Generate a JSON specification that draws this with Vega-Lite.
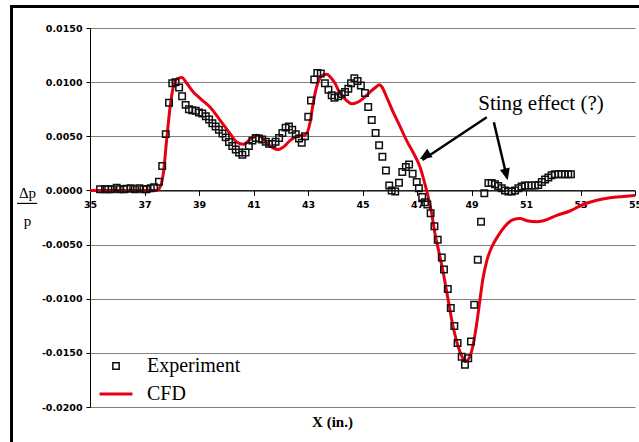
{
  "$schema": "https://vega.github.io/schema/vega-lite/v6.json",
  "width": 545,
  "height": 379,
  "autosize": "none",
  "padding": {"left": 90, "top": 28, "right": 4, "bottom": 35},
  "background": "white",
  "config": {"view": {"stroke": null}},
  "title": {"text": "X (in.)", "orient": "bottom", "anchor": "middle", "frame": "group", "offset": -32, "dx": -30, "font": "Liberation Serif", "fontSize": 15, "fontWeight": "bold", "color": "black", "baseline": "top"},
  "datasets": {
    "exp": [
      {"x":35.37,"y":0.0001},{"x":35.55,"y":0.0001},{"x":35.67,"y":0.0001},{"x":35.80,"y":0.0001},{"x":35.98,"y":0.00025},{"x":36.10,"y":0.0001},{"x":36.25,"y":0.0001},{"x":36.35,"y":0.00015},{"x":36.49,"y":0.0002},{"x":36.65,"y":0.0001},{"x":36.81,"y":0.0002},{"x":36.96,"y":0.0001},{"x":37.08,"y":0.0001},{"x":37.23,"y":0.0002},{"x":37.35,"y":0.0003},{"x":37.53,"y":0.0008},{"x":37.65,"y":0.00225},{"x":37.78,"y":0.0052},{"x":37.90,"y":0.0081},{"x":38.02,"y":0.0099},{"x":38.14,"y":0.0100},{"x":38.27,"y":0.0095},{"x":38.38,"y":0.0087},{"x":38.51,"y":0.0079},{"x":38.63,"y":0.0075},{"x":38.75,"y":0.0074},{"x":38.88,"y":0.00735},{"x":39.00,"y":0.0072},{"x":39.12,"y":0.0071},{"x":39.25,"y":0.00685},{"x":39.37,"y":0.00655},{"x":39.49,"y":0.0062},{"x":39.61,"y":0.0059},{"x":39.73,"y":0.0056},{"x":39.86,"y":0.00525},{"x":39.98,"y":0.0049},{"x":40.10,"y":0.00447},{"x":40.22,"y":0.0041},{"x":40.35,"y":0.00377},{"x":40.47,"y":0.0035},{"x":40.59,"y":0.0033},{"x":40.71,"y":0.0035},{"x":40.83,"y":0.0041},{"x":40.96,"y":0.0046},{"x":41.08,"y":0.00485},{"x":41.20,"y":0.0048},{"x":41.32,"y":0.0047},{"x":41.45,"y":0.0045},{"x":41.57,"y":0.0043},{"x":41.69,"y":0.0043},{"x":41.81,"y":0.0045},{"x":41.94,"y":0.00485},{"x":42.06,"y":0.0053},{"x":42.18,"y":0.0058},{"x":42.30,"y":0.0059},{"x":42.42,"y":0.0056},{"x":42.55,"y":0.0052},{"x":42.67,"y":0.0048},{"x":42.77,"y":0.0044},{"x":42.89,"y":0.0050},{"x":43.01,"y":0.0068},{"x":43.11,"y":0.0083},{"x":43.23,"y":0.01025},{"x":43.34,"y":0.01085},{"x":43.47,"y":0.0108},{"x":43.62,"y":0.0099},{"x":43.75,"y":0.0093},{"x":43.87,"y":0.0088},{"x":43.97,"y":0.00855},{"x":44.11,"y":0.0087},{"x":44.24,"y":0.0089},{"x":44.36,"y":0.0091},{"x":44.48,"y":0.0094},{"x":44.58,"y":0.0099},{"x":44.70,"y":0.01035},{"x":44.82,"y":0.0101},{"x":44.94,"y":0.0097},{"x":45.09,"y":0.0090},{"x":45.21,"y":0.0077},{"x":45.34,"y":0.0065},{"x":45.48,"y":0.0053},{"x":45.61,"y":0.00417},{"x":45.73,"y":0.0031},{"x":45.86,"y":0.00185},{"x":45.98,"y":0.00046},{"x":46.07,"y":0.0},{"x":46.20,"y":-0.0001},{"x":46.34,"y":0.0007},{"x":46.46,"y":0.0017},{"x":46.59,"y":0.00216},{"x":46.71,"y":0.0024},{"x":46.84,"y":0.00155},{"x":46.99,"y":0.00077},{"x":47.07,"y":0.0002},{"x":47.19,"y":-0.0006},{"x":47.29,"y":-0.0011},{"x":47.38,"y":-0.0013},{"x":47.50,"y":-0.0021},{"x":47.64,"y":-0.0033},{"x":47.76,"y":-0.00456},{"x":47.91,"y":-0.0062},{"x":47.99,"y":-0.0073},{"x":48.13,"y":-0.0091},{"x":48.24,"y":-0.01086},{"x":48.37,"y":-0.01253},{"x":48.49,"y":-0.0141},{"x":48.64,"y":-0.01537},{"x":48.76,"y":-0.0161},{"x":48.88,"y":-0.0155},{"x":48.98,"y":-0.01395},{"x":49.10,"y":-0.01056},{"x":49.23,"y":-0.0064},{"x":49.35,"y":-0.0029},{"x":49.47,"y":-0.00025},{"x":49.62,"y":0.00068},{"x":49.74,"y":0.00068},{"x":49.86,"y":0.00056},{"x":49.98,"y":0.0004},{"x":50.11,"y":0.0002},{"x":50.23,"y":0.0},{"x":50.35,"y":-0.0001},{"x":50.48,"y":-0.0001},{"x":50.60,"y":0.0},{"x":50.72,"y":0.0002},{"x":50.84,"y":0.00037},{"x":50.96,"y":0.00046},{"x":51.09,"y":0.00046},{"x":51.21,"y":0.00046},{"x":51.33,"y":0.00046},{"x":51.45,"y":0.0005},{"x":51.58,"y":0.00077},{"x":51.70,"y":0.001},{"x":51.82,"y":0.0012},{"x":51.94,"y":0.0014},{"x":52.06,"y":0.0015},{"x":52.19,"y":0.0015},{"x":52.31,"y":0.0015},{"x":52.43,"y":0.0015},{"x":52.55,"y":0.0015},{"x":52.65,"y":0.0015}
    ],
    "cfd": [
      {"x":35.00,"y":0},{"x":36.0,"y":0},{"x":37.0,"y":0},{"x":37.45,"y":0},{"x":37.57,"y":0.0003},{"x":37.69,"y":0.00155},{"x":37.81,"y":0.0046},{"x":37.94,"y":0.0077},{"x":38.06,"y":0.0096},{"x":38.19,"y":0.0103},{"x":38.37,"y":0.01044},{"x":38.55,"y":0.0099},{"x":38.79,"y":0.0091},{"x":39.04,"y":0.0085},{"x":39.40,"y":0.0077},{"x":39.77,"y":0.0065},{"x":40.14,"y":0.00525},{"x":40.38,"y":0.00447},{"x":40.63,"y":0.00426},{"x":40.87,"y":0.0047},{"x":41.12,"y":0.0051},{"x":41.30,"y":0.0049},{"x":41.48,"y":0.0044},{"x":41.73,"y":0.0039},{"x":41.91,"y":0.00377},{"x":42.09,"y":0.004},{"x":42.34,"y":0.0046},{"x":42.59,"y":0.005},{"x":42.89,"y":0.0051},{"x":43.07,"y":0.0062},{"x":43.18,"y":0.0079},{"x":43.29,"y":0.0093},{"x":43.40,"y":0.0102},{"x":43.54,"y":0.01065},{"x":43.69,"y":0.01074},{"x":43.81,"y":0.0105},{"x":43.99,"y":0.0099},{"x":44.17,"y":0.0090},{"x":44.42,"y":0.0083},{"x":44.60,"y":0.0080},{"x":44.79,"y":0.0081},{"x":45.03,"y":0.0085},{"x":45.28,"y":0.0091},{"x":45.52,"y":0.0096},{"x":45.61,"y":0.00977},{"x":45.70,"y":0.0096},{"x":45.89,"y":0.0086},{"x":46.13,"y":0.0072},{"x":46.38,"y":0.0059},{"x":46.62,"y":0.0046},{"x":46.86,"y":0.0035},{"x":47.11,"y":0.00216},{"x":47.29,"y":0.0006},{"x":47.41,"y":-0.0006},{"x":47.54,"y":-0.00216},{"x":47.66,"y":-0.0040},{"x":47.78,"y":-0.0054},{"x":47.97,"y":-0.0077},{"x":48.15,"y":-0.0102},{"x":48.33,"y":-0.01266},{"x":48.52,"y":-0.0145},{"x":48.64,"y":-0.01528},{"x":48.77,"y":-0.0158},{"x":48.92,"y":-0.01544},{"x":49.04,"y":-0.0145},{"x":49.17,"y":-0.01266},{"x":49.29,"y":-0.0105},{"x":49.41,"y":-0.0083},{"x":49.56,"y":-0.0065},{"x":49.74,"y":-0.00525},{"x":49.98,"y":-0.00417},{"x":50.23,"y":-0.0033},{"x":50.53,"y":-0.0027},{"x":50.78,"y":-0.0026},{"x":51.03,"y":-0.0028},{"x":51.39,"y":-0.0029},{"x":51.64,"y":-0.0028},{"x":52.13,"y":-0.0023},{"x":52.61,"y":-0.0019},{"x":53.10,"y":-0.0013},{"x":53.60,"y":-0.0009},{"x":54.08,"y":-0.00068},{"x":54.57,"y":-0.00056},{"x":55.00,"y":-0.00047}
    ],
    "ann": [{"x": 51.55, "y": 0.0074, "label": "Sting effect (?)"}],
    "arrows": [
      {"x": 49.56, "y": 0.00676, "x2": 47.2, "y2": 0.00281},
      {"x": 49.82, "y": 0.0063, "x2": 50.3, "y2": 0.0012}
    ],
    "frame": [{"x": 32.12, "x2": 55.6, "y": 0.01699, "y2": -0.0236}],
    "bar": [{"x": 32.32, "x2": 33.06, "y": -0.0012}]
  },
  "encoding": {
    "x": {"field": "x", "type": "quantitative",
      "scale": {"domain": [35, 55], "nice": false, "zero": false},
      "axis": {"orient": "bottom", "offset": {"expr": "scale('y', 0) - height"}, "values": [35,37,39,41,43,45,47,49,51,53,55], "format": "d", "grid": false, "title": null,
        "domainColor": "black", "domainWidth": 1.2, "tickColor": "black", "tickSize": 5, "tickWidth": 1,
        "labelFont": "DejaVu Sans", "labelFontWeight": "bold", "labelFontSize": 9.5, "labelColor": "black", "labelPadding": 4,
        "labelOverlap": false, "labelFlush": false, "labelBound": false}},
    "y": {"field": "y", "type": "quantitative",
      "scale": {"domain": [-0.02, 0.015], "nice": false, "zero": false},
      "axis": {"values": [-0.02,-0.015,-0.01,-0.005,0,0.005,0.01,0.015],
        "labelExpr": "(datum.value < -0.00001 ? '-' : '') + format(abs(datum.value), '.4f')",
        "grid": true, "gridColor": "#808080", "gridWidth": 1,
        "domainColor": "black", "domainWidth": 1, "tickColor": "black", "tickSize": 4,
        "labelFont": "DejaVu Sans", "labelFontWeight": "bold", "labelFontSize": 9.5, "labelColor": "black", "labelPadding": 4,
        "title": ["Δp", "p"], "titleAngle": 0, "titleX": -63, "titleY": 169, "titleAlign": "center", "titleBaseline": "alphabetic",
        "titleFont": "Liberation Serif", "titleFontSize": 15, "titleFontWeight": "normal", "titleColor": "black", "titleLineHeight": 28}}
  },
  "layer": [
    {
      "data": {"name": "frame"},
      "mark": {"type": "rect", "fill": "transparent", "stroke": "black", "strokeWidth": 3},
      "encoding": {"x2": {"field": "x2"}, "y2": {"field": "y2"}}
    },
    {
      "data": {"name": "cfd"},
      "transform": [{"calculate": "'CFD'", "as": "series"}],
      "mark": {"type": "line", "strokeWidth": 3, "interpolate": "monotone"},
      "encoding": {
        "color": {"field": "series", "type": "nominal", "scale": {"domain": ["Experiment", "CFD"], "range": ["#111111", "#e60012"]},
          "legend": {"orient": "none", "legendX": 16, "legendY": 328, "title": null, "padding": 0,
            "labelFont": "Liberation Serif", "labelFontSize": 20, "labelColor": "black", "labelOffset": 21, "rowPadding": 8, "symbolSize": 40}}
      }
    },
    {
      "data": {"name": "exp"},
      "transform": [{"calculate": "'Experiment'", "as": "series"}],
      "mark": {"type": "point", "filled": false, "size": 42, "opacity": 1},
      "encoding": {
        "color": {"field": "series", "type": "nominal"},
        "shape": {"field": "series", "type": "nominal", "scale": {"domain": ["Experiment", "CFD"], "range": ["square", "M-5.2,0H5.2"]}},
        "strokeWidth": {"field": "series", "type": "nominal", "scale": {"domain": ["Experiment", "CFD"], "range": [1.5, 3]}}
      }
    },
    {
      "data": {"name": "arrows"},
      "mark": {"type": "rule", "stroke": "black", "strokeWidth": 2.5},
      "encoding": {"x2": {"field": "x2"}, "y2": {"field": "y2"}}
    },
    {
      "data": {"values": [{"x": 47.1, "y": 0.00287}]},
      "mark": {"type": "point", "shape": "M0,0L-0.42,1L0.42,1Z", "filled": true, "color": "black", "size": 576, "angle": 238, "opacity": 1}
    },
    {
      "data": {"values": [{"x": 50.33, "y": 0.00093}]},
      "mark": {"type": "point", "shape": "M0,0L-0.42,1L0.42,1Z", "filled": true, "color": "black", "size": 576, "angle": 166, "opacity": 1}
    },
    {
      "data": {"name": "ann"},
      "mark": {"type": "text", "font": "Liberation Serif", "fontSize": 21, "align": "center", "baseline": "alphabetic", "color": "black"},
      "encoding": {"text": {"field": "label"}}
    },
    {
      "data": {"name": "bar"},
      "mark": {"type": "rule", "stroke": "black", "strokeWidth": 1.2},
      "encoding": {"x2": {"field": "x2"}}
    }
  ]
}
